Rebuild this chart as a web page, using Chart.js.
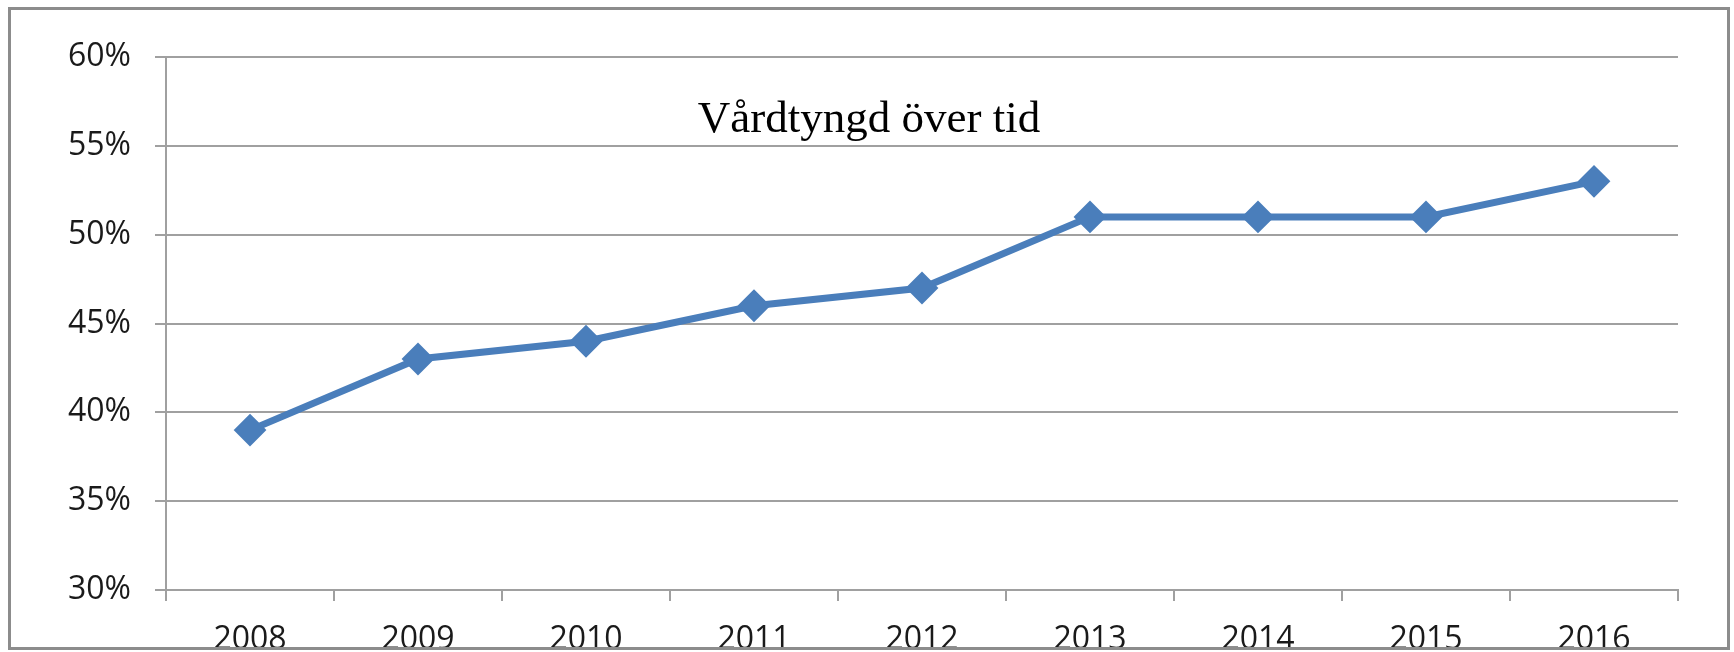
<!DOCTYPE html>
<html>
<head>
<meta charset="utf-8">
<script src="https://cdn.jsdelivr.net/npm/chart.js@4/dist/chart.umd.min.js"></script>
<style>
  html, body { margin: 0; padding: 0; background: #fff; }
  #wrap { width: 1734px; height: 652px; position: relative; }
  canvas { display: block; }
</style>
</head>
<body>
<div id="wrap"><canvas id="c" width="1734" height="652"></canvas></div>
<script>
const titleText = 'Vårdtyngd över tid';
const years = ['2008', '2009', '2010', '2011', '2012', '2013', '2014', '2015', '2016'];
const shareValues = [0.39, 0.43, 0.44, 0.46, 0.47, 0.51, 0.51, 0.51, 0.53];
const yMin = 0.30, yMax = 0.60, yStep = 0.05;

const gridGray = '#a0a0a0';
const lineBlue = '#4a7ebb';

const overlayPlugin = {
  id: 'overlay',
  beforeDraw(chart) {
    const ctx = chart.ctx;
    ctx.save();
    ctx.fillStyle = '#ffffff';
    ctx.fillRect(0, 0, chart.width, chart.height);
    ctx.restore();
  },
  afterDraw(chart) {
    const ctx = chart.ctx;
    ctx.save();
    ctx.font = '45px "Liberation Serif", "Times New Roman", serif';
    ctx.fillStyle = '#000000';
    ctx.textAlign = 'center';
    ctx.textBaseline = 'alphabetic';
    ctx.fillText(titleText, chart.width / 2 + 2, 132);
    ctx.fillStyle = '#ffffff';
    ctx.fillRect(0, 650, chart.width, chart.height - 650);
    ctx.strokeStyle = '#8c8c8c';
    ctx.lineWidth = 3;
    ctx.strokeRect(9.5, 8.5, 1719, 640);
    ctx.restore();
  }
};

new Chart(document.getElementById('c'), {
  type: 'line',
  data: {
    labels: years,
    datasets: [{
      data: shareValues,
      borderColor: lineBlue,
      backgroundColor: lineBlue,
      borderWidth: 7,
      pointStyle: 'rectRot',
      pointRadius: 15,
      pointBorderWidth: 2,
      pointBorderColor: lineBlue,
      pointBackgroundColor: lineBlue,
      tension: 0,
      fill: false
    }]
  },
  options: {
    responsive: false,
    animation: false,
    devicePixelRatio: 1,
    layout: { padding: { left: 0, top: 57, right: 56, bottom: 0 } },
    plugins: { legend: { display: false }, tooltip: { enabled: false }, title: { display: false } },
    scales: {
      x: {
        type: 'category',
        offset: true,
        grid: {
          offset: true,
          drawOnChartArea: false,
          color: gridGray,
          tickColor: gridGray,
          tickLength: 11,
          lineWidth: 2
        },
        border: { display: true, color: gridGray, width: 2 },
        ticks: {
          color: '#1a1a1a',
          font: { family: '"Open Sans", sans-serif', size: 32 },
          padding: 20,
          maxRotation: 0,
          autoSkip: false
        },
        afterFit(s) { s.height = 62; }
      },
      y: {
        min: yMin,
        max: yMax,
        grid: {
          color: gridGray,
          tickColor: gridGray,
          tickLength: 11,
          lineWidth: 2
        },
        border: { display: true, color: gridGray, width: 2 },
        ticks: {
          stepSize: yStep,
          color: '#1a1a1a',
          font: { family: '"Open Sans", sans-serif', size: 32 },
          padding: 24,
          callback: v => Math.round(v * 100) + '%'
        },
        afterFit(s) { s.width = 166; }
      }
    }
  },
  plugins: [overlayPlugin]
});
</script>
</body>
</html>
